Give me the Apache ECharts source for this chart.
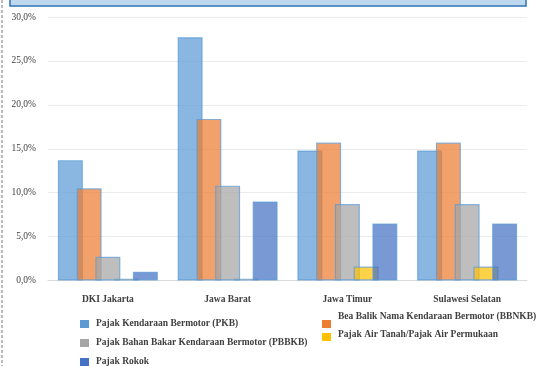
<!DOCTYPE html>
<html>
<head>
<meta charset="utf-8">
<script src="https://cdn.jsdelivr.net/npm/echarts@6/dist/echarts.min.js"></script>
<style>
  html, body { margin: 0; padding: 0; background: #fff; }
  #chart { width: 551px; height: 366px; }
</style>
</head>
<body>
<div id="chart"></div>
<script>
// Provinces on the category axis
const regions = ['DKI Jakarta', 'Jawa Barat', 'Jawa Timur', 'Sulawesi Selatan'];

// Share of each regional tax (percent)
const pkb   = [13.7, 27.7, 14.8, 14.8];
const bbnkb = [10.5, 18.4, 15.7, 15.7];
const pbbkb = [2.7, 10.8, 8.7, 8.7];
const pap   = [0.2, 0.2, 1.6, 1.6];
const rokok = [1.0, 9.0, 6.5, 6.5];

const seriesNames = [
  'Pajak Kendaraan Bermotor (PKB)',
  'Bea Balik Nama Kendaraan Bermotor (BBNKB)',
  'Pajak Bahan Bakar Kendaraan Bermotor (PBBKB)',
  'Pajak Air Tanah/Pajak Air Permukaan',
  'Pajak Rokok'
];
const seriesValues = [pkb, bbnkb, pbbkb, pap, rokok];
const seriesColors = ['#5B9BD5', '#ED7D31', '#A5A5A5', '#FFC000', '#4472C4'];

const FONT = '"Liberation Serif", "DejaVu Serif", serif';
const TXT = '#404040';

const chart = echarts.init(document.getElementById('chart'), null, { renderer: 'canvas' });

// One legend block per entry; `lift` raises the label above its swatch
function legendItem(name, left, top, lift) {
  return {
    data: [name],
    left: left, top: top,
    orient: 'vertical',
    itemWidth: 9, itemHeight: 8,
    itemGap: 0,
    padding: 0,
    selectedMode: false,
    icon: 'rect',
    itemStyle: { opacity: 1, borderWidth: 0 },
    formatter: n => lift ? '{t|' + n + '}\n{s|}' : n,
    textStyle: {
      fontFamily: FONT, fontSize: 9.5, fontWeight: 'bold', color: TXT,
      padding: [0, 0, 0, 2],
      rich: {
        t: { fontFamily: FONT, fontSize: 9.5, fontWeight: 'bold', color: TXT, lineHeight: 12 },
        s: { fontSize: 1, lineHeight: lift * 2 }
      }
    }
  };
}

chart.setOption({
  animation: false,
  grid: { left: 48, right: 24, top: 17, bottom: 85.5 },
  xAxis: {
    type: 'category',
    data: regions,
    axisLine: { show: true, lineStyle: { color: '#D9D9D9' } },
    axisTick: { show: false },
    axisLabel: { fontFamily: FONT, fontSize: 9.5, fontWeight: 'bold', color: TXT, margin: 14 }
  },
  yAxis: {
    type: 'value',
    min: 0, max: 30, interval: 5,
    axisLine: { show: false },
    axisTick: { show: false },
    splitLine: { lineStyle: { color: '#EBEBEB' } },
    axisLabel: {
      fontFamily: FONT, fontSize: 9.5, color: TXT, margin: 12,
      formatter: v => v.toFixed(1).replace('.', ',') + '%'
    }
  },
  legend: [
    legendItem(seriesNames[0], 80, 319, 0),
    legendItem(seriesNames[2], 80, 338, 0),
    legendItem(seriesNames[4], 80, 357, 0),
    legendItem(seriesNames[1], 322, 312, 7),
    legendItem(seriesNames[3], 322, 330, 2)
  ],
  series: seriesNames.map((name, i) => ({
    name: name,
    type: 'bar',
    data: seriesValues[i],
    barWidth: 25,
    barGap: '-25%',
    itemStyle: {
      color: seriesColors[i],
      opacity: 0.72,
      borderColor: '#5B9BD5',
      borderWidth: 1.2
    }
  })),
  graphic: [
    {
      type: 'rect',
      shape: { x: 10, y: -20, width: 516, height: 26 },
      style: { fill: '#BDD7EE', stroke: '#2E75B6', lineWidth: 1.5 },
      silent: true
    },
    {
      type: 'line',
      shape: { x1: 2, y1: 0, x2: 2, y2: 366 },
      style: { stroke: '#A6A6A6', lineWidth: 1.5, lineDash: [3, 2] },
      silent: true
    }
  ]
});
</script>
</body>
</html>
